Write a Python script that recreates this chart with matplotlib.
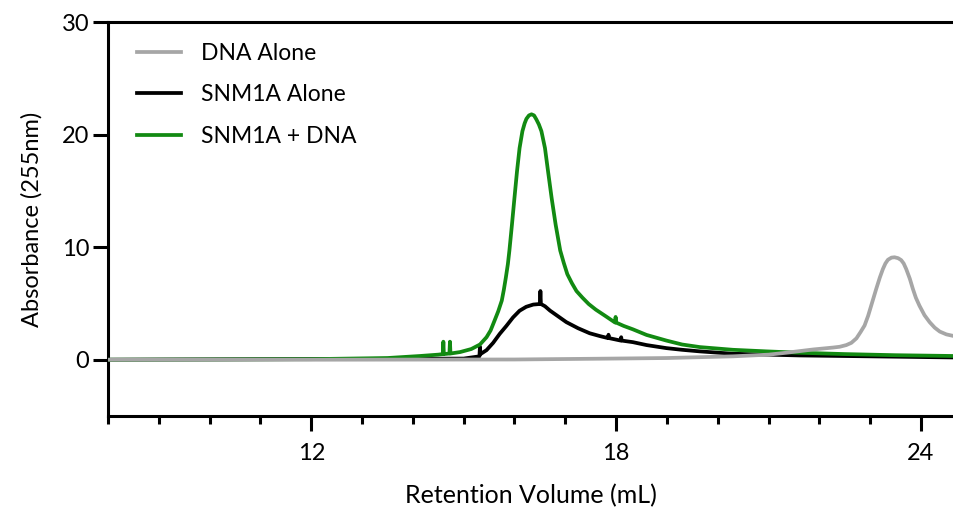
import matplotlib
matplotlib.use("Agg")
from matplotlib import pyplot as plt
from matplotlib.ticker import MultipleLocator

# DNA alone (grey)
dna_vol = [8.0, 12.0, 16.0, 17.68, 19.0, 20.3, 21.0, 21.35, 21.88, 22.27, 22.4, 22.53,
           22.63, 22.73, 22.81, 22.89, 22.96, 23.02, 23.07, 23.12, 23.19, 23.25, 23.3,
           23.35, 23.42, 23.48, 23.55, 23.61, 23.66, 23.71, 23.78, 23.84, 23.9, 23.97,
           24.07, 24.17, 24.27, 24.37, 24.5, 24.65]
dna_abs = [0.0, 0.0, 0.02, 0.09, 0.15, 0.3, 0.45, 0.62, 0.91, 1.08, 1.15, 1.3,
           1.5, 1.9, 2.45, 3.04, 3.9, 4.8, 5.55, 6.3, 7.3, 8.05, 8.55,
           8.88, 9.07, 9.1, 9.02, 8.85, 8.55, 8.05, 7.2, 6.3, 5.5, 4.8,
           3.95, 3.34, 2.85, 2.5, 2.25, 2.1]

# SNM1A alone (black)
snm_vol = [8.0, 15.0, 15.31, 15.32, 15.33, 15.45, 15.58, 15.71, 15.84, 15.97, 16.1, 16.23,
           16.37, 16.5, 16.51, 16.52, 16.6, 16.7, 16.86, 17.02, 17.25, 17.48, 17.68, 17.84,
           17.85, 17.86, 18.09, 18.1, 18.11, 18.33, 18.6, 18.99, 19.3, 19.65, 20.3,
           21.0, 21.61, 23.0, 24.65]
snm_abs = [0.0, 0.1, 0.3, 1.15, 0.5, 0.85, 1.5, 2.3, 3.0, 3.75, 4.35, 4.7,
           4.9, 4.95, 6.1, 4.95, 4.75, 4.36, 3.85, 3.34, 2.8, 2.35, 2.1, 1.92,
           2.22, 1.92, 1.7, 2.0, 1.7, 1.56, 1.3, 1.03, 0.88, 0.74, 0.53,
           0.45, 0.38, 0.3, 0.2]

# SNM1A + DNA (green)
mix_vol = [8.0, 10.0, 12.0, 13.5, 14.14, 14.5, 14.59, 14.6, 14.61, 14.72, 14.73, 14.74,
           14.93, 15.15, 15.32, 15.45, 15.53, 15.61, 15.68, 15.75, 15.79, 15.83, 15.87,
           15.9, 15.95, 16.0, 16.05, 16.1, 16.156, 16.2, 16.235, 16.285, 16.335, 16.385,
           16.43, 16.48, 16.53, 16.6, 16.66, 16.73, 16.81, 16.9, 16.97, 17.04, 17.13,
           17.22, 17.34, 17.46, 17.6, 17.8, 17.98, 17.99, 18.0, 18.15, 18.33, 18.6,
           18.99, 19.3, 19.65, 20.3, 20.96, 21.61, 22.5, 23.5, 24.65]
mix_abs = [0.0, 0.02, 0.05, 0.15, 0.33, 0.45, 0.5, 1.6, 0.5, 0.55, 1.6, 0.55,
           0.68, 0.95, 1.35, 2.0, 2.6, 3.5, 4.3, 5.25, 6.2, 7.3, 8.5,
           9.7, 12.0, 14.4, 16.75, 18.8, 20.3, 21.0, 21.4, 21.7, 21.8, 21.7,
           21.35, 20.9, 20.3, 18.8, 16.75, 14.4, 12.0, 9.7, 8.6, 7.6, 6.8,
           6.1, 5.5, 4.95, 4.45, 3.85, 3.3, 3.8, 3.3, 3.0, 2.7, 2.2,
           1.7, 1.35, 1.12, 0.88, 0.74, 0.62, 0.5, 0.4, 0.33]

plt.rcParams['font.family'] = ['Lato', 'DejaVu Sans']

fig = plt.figure(figsize=(9.54, 5.14), dpi=100)
ax = fig.add_axes([108 / 954, 98 / 514, 1 - 108 / 954, 394 / 514])

ax.plot(dna_vol, dna_abs, color="#a6a6a6", lw=2.7, label="DNA Alone", zorder=4,
        solid_joinstyle="round")
ax.plot(snm_vol, snm_abs, color="black", lw=2.7, label="SNM1A Alone", zorder=2,
        solid_joinstyle="round")
ax.plot(mix_vol, mix_abs, color="#128a12", lw=2.7, label="SNM1A + DNA", zorder=3,
        solid_joinstyle="round")

ax.set_xlim(8, 24.65)
ax.set_ylim(-5, 30)
ax.xaxis.set_major_locator(MultipleLocator(6))
ax.xaxis.set_minor_locator(MultipleLocator(1))
ax.set_yticks([0, 10, 20, 30])

for s in ["left", "bottom", "top"]:
    ax.spines[s].set_linewidth(2.2)
ax.spines["right"].set_visible(False)

ax.tick_params(axis="both", which="major", length=10.5, width=2.2, labelsize=17, pad=3)
ax.tick_params(axis="x", which="minor", length=5.5, width=2.2)
ax.tick_params(axis="x", which="major", pad=9)

ax.set_xlabel("Retention Volume (mL)", fontsize=18, labelpad=14)
ax.set_ylabel("Absorbance (255nm)", fontsize=17, labelpad=14)

ax.legend(loc="upper left", frameon=False, fontsize=16.5, handlelength=1.9,
          handletextpad=0.9, labelspacing=0.9, borderaxespad=0.5,
          bbox_to_anchor=(0.01, 1.0))

fig.savefig("out.png", dpi=100)
